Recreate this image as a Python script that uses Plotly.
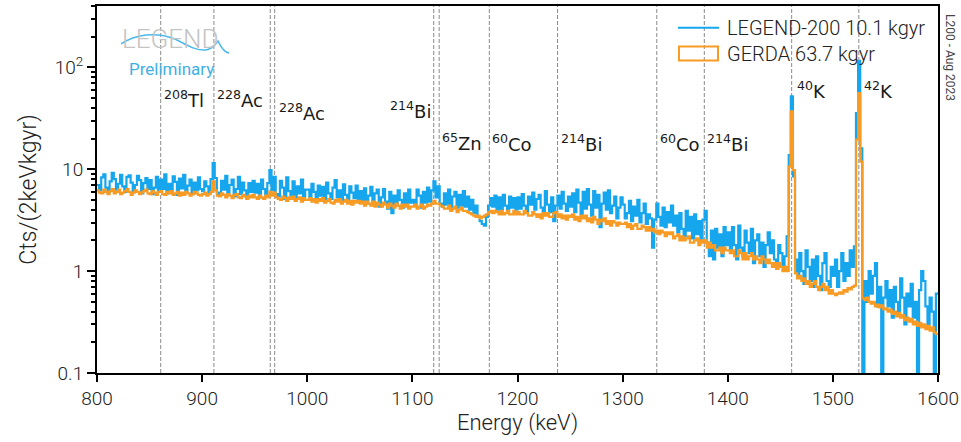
import numpy as np
import plotly.graph_objects as go

# ---------------- data ----------------
bin_width = 2.0  # keV
e_min, e_max = 800, 1600

legend200 = [
    7.0,6.2,8.3,8.9,6.6,5.9,7.6,9.2,8.0,6.3,7.2,8.8,6.8,6.0,8.4,8.7,7.4,6.1,7.0,8.6,7.8,5.8,7.3,8.2,6.4,
    7.8,5.7,6.6,8.4,6.0,7.9,6.4,8.9,5.8,7.2,6.1,8.5,7.5,5.6,8.1,6.5,8.8,5.9,6.9,7.9,5.7,7.4,6.2,8.3,6.4,
    6.1,7.6,6.8,5.8,8.0,11.5,8.2,5.9,5.5,7.7,6.3,8.6,5.8,7.0,7.9,5.4,6.4,8.4,5.7,7.4,6.2,5.3,7.3,6.0,7.7,
    5.9,7.2,5.3,7.9,6.4,5.6,7.3,9.8,6.2,8.4,5.7,5.4,7.7,6.6,5.1,8.3,6.1,5.5,7.6,5.3,6.8,5.8,7.9,5.4,6.3,
    6.3,5.2,7.2,6.0,5.0,6.9,5.5,6.7,4.8,7.4,5.8,5.1,6.6,7.8,5.3,6.2,4.9,7.1,5.6,4.7,6.8,5.9,5.2,6.9,5.0,
    6.1,4.8,6.5,4.6,5.5,6.7,4.5,5.8,6.3,4.3,5.3,6.4,4.8,4.1,6.0,3.7,5.5,4.4,6.2,5.0,4.2,5.8,4.6,6.3,4.7,
    5.0,4.4,6.3,5.5,4.2,6.0,4.7,6.6,4.8,6.2,7.6,5.3,6.8,4.6,4.3,5.8,4.5,6.3,4.0,5.4,6.0,4.2,5.6,4.4,6.1,
    4.3,5.4,4.0,5.0,3.7,4.4,3.4,3.1,2.9,2.8,3.4,4.4,5.2,4.3,5.5,4.0,5.3,4.0,5.6,4.4,3.9,5.4,4.2,5.2,4.0,
    5.3,4.1,5.7,4.4,3.9,5.4,4.5,5.9,4.0,5.1,5.6,4.2,3.7,6.1,4.5,3.8,5.3,3.1,4.4,5.5,4.1,6.0,4.6,3.9,5.4,
    4.3,5.8,3.8,6.3,4.7,3.6,6.0,4.1,6.4,4.5,3.5,6.1,4.2,5.6,2.7,4.6,5.9,4.0,6.2,3.7,4.4,5.4,3.3,4.2,5.3,
    4.5,3.3,3.7,4.9,3.1,4.3,3.5,5.0,3.0,3.7,4.6,2.9,3.6,3.3,1.7,3.2,4.6,3.4,2.8,4.2,2.7,3.8,3.0,4.4,2.8,
    3.5,2.4,3.7,2.6,2.2,3.9,2.5,3.4,2.1,3.6,2.3,3.1,2.0,3.2,3.9,1.9,1.4,2.5,1.3,2.6,1.7,2.3,1.4,2.7,1.8,
    2.4,1.6,2.7,1.8,1.3,2.8,1.7,1.4,2.5,1.9,1.5,2.6,1.2,2.0,2.3,1.4,1.9,1.1,1.8,2.4,1.5,2.0,1.3,1.05,1.8,
    1.5,1.1,1.4,2.2,13.8,52,8.5,1.3,0.9,1.5,1.0,0.75,1.6,1.1,0.8,1.3,0.7,1.4,0.9,0.65,1.2,1.5,0.8,0.7,1.1,
    0.9,1.3,0.7,1.0,1.5,0.8,1.2,0.9,1.6,1.1,1.75,35.5,116,16,0,0.8,0.5,1.0,0.6,0.9,1.2,0.45,0.7,0,0.55,
    0.8,0.45,0.65,0.35,0.7,0.5,0.4,0.85,0.55,0.3,0.6,0.45,0.75,0.35,0.5,0,0.65,1.0,0.8,0.45,0.3,0.55,0.4,0,0.6,
]

gerda = [
    6.2,5.9,5.8,6.3,6.0,5.7,6.1,6.4,5.8,6.0,6.3,5.7,5.9,6.1,6.4,6.0,5.6,5.9,6.2,6.0,5.7,5.9,6.1,6.3,5.8,
    5.7,6.1,5.9,5.6,6.0,6.1,5.7,5.6,6.0,5.8,6.1,5.6,5.8,6.0,5.5,5.9,5.6,6.0,5.8,5.5,5.7,6.0,5.8,5.6,5.5,
    5.7,5.9,5.5,5.7,6.0,7.6,6.2,5.5,5.4,5.8,5.6,5.3,5.7,5.5,5.2,5.6,5.7,5.3,5.2,5.6,5.4,5.1,5.5,5.3,5.6,
    5.3,5.1,5.5,5.3,5.1,5.5,5.3,6.0,5.5,5.9,5.3,5.1,5.0,5.4,5.2,4.9,5.3,5.1,5.4,4.9,5.1,5.3,4.8,5.2,5.0,
    5.0,5.2,4.8,5.1,4.7,5.1,4.9,5.2,4.7,4.9,5.1,4.7,4.6,5.0,4.8,5.1,4.6,4.8,5.0,4.6,4.9,4.5,4.9,4.7,4.9,
    4.6,4.8,4.4,4.8,4.6,4.4,4.8,4.3,4.7,4.5,4.3,4.7,4.5,4.2,4.6,4.4,4.2,4.6,4.4,4.1,4.5,4.3,4.5,4.1,4.3,
    4.3,4.5,4.1,4.3,4.5,4.1,4.3,4.5,4.4,4.6,4.9,4.6,4.6,4.4,4.3,4.1,4.1,4.4,3.9,4.1,4.3,3.8,4.0,4.2,3.9,
    3.9,3.8,3.7,3.6,3.5,3.4,3.5,3.3,3.4,3.5,3.6,3.8,3.9,3.7,3.9,3.8,3.6,3.9,3.6,3.7,3.9,3.6,3.6,3.9,3.6,
    3.8,3.6,3.6,3.9,3.7,3.5,3.5,3.8,3.6,3.4,3.6,3.3,3.7,3.5,3.7,3.4,3.4,3.7,3.8,3.4,3.6,3.3,3.5,3.2,3.5,
    3.4,3.6,3.2,3.4,3.1,3.5,3.3,3.5,3.1,3.3,3.0,3.4,3.2,2.9,3.2,3.1,3.3,2.9,3.1,2.8,3.1,3.0,2.8,3.0,2.9,
    2.9,3.0,2.7,2.9,2.6,2.8,2.9,2.6,2.6,2.8,2.7,2.5,2.7,2.5,2.6,2.4,2.5,2.3,2.5,2.4,2.2,2.4,2.3,2.4,2.1,
    2.2,2.3,2.0,2.2,2.0,2.1,2.2,1.9,1.9,2.0,2.1,1.8,2.0,1.9,2.0,1.7,1.9,1.7,1.8,1.6,1.6,1.7,1.5,1.7,1.6,
    1.6,1.5,1.6,1.4,1.4,1.6,1.5,1.3,1.5,1.3,1.4,1.5,1.3,1.4,1.3,1.2,1.4,1.3,1.2,1.3,1.2,1.1,1.2,1.05,1.2,
    1.1,1.0,1.1,1.0,10.6,37,9.8,0.95,0.85,0.9,0.8,0.85,0.75,0.8,0.7,0.75,0.8,0.7,0.65,0.7,0.75,0.65,0.7,0.6,0.65,
    0.6,0.58,0.6,0.62,0.6,0.65,0.63,0.68,0.66,0.7,0.72,19.5,56,11.9,0.54,0.52,0.55,0.5,0.48,0.5,0.45,0.47,0.44,0.46,0.42,
    0.43,0.4,0.42,0.38,0.4,0.36,0.39,0.35,0.37,0.33,0.35,0.32,0.34,0.3,0.32,0.29,0.31,0.28,0.3,0.27,0.29,0.26,0.28,0.25,0.24,
]

line_energies = [860.6, 911.2, 964.8, 969.0, 1120.3, 1125.5, 1173.2, 1238.1, 1332.5, 1377.7, 1460.8, 1524.7]

iso_labels = ["<sup>208</sup>Tl", "<sup>228</sup>Ac", "<sup>228</sup>Ac", "<sup>214</sup>Bi",
              "<sup>65</sup>Zn", "<sup>60</sup>Co", "<sup>214</sup>Bi", "<sup>60</sup>Co",
              "<sup>214</sup>Bi", "<sup>40</sup>K", "<sup>42</sup>K"]
iso_label_energy = [860.6, 911.2, 969.0, 1120.3, 1125.5, 1173.2, 1238.1, 1332.5, 1377.7, 1460.8, 1524.7]

x_ticks = [800, 900, 1000, 1100, 1200, 1300, 1400, 1500, 1600]
y_tickvals = [0.1, 1, 10, 100]
y_ticktext = ["0.1", "1", "10", "10<sup>2</sup>"]

series_names = ["LEGEND-200 10.1 kgyr", "GERDA 63.7 kgyr"]

# ---------------- layout helpers ----------------
W, H = 961, 442
L, R, T, B = 97, 938, 6, 373


def px(xp):
    return (xp - L) / (R - L)


def py(yp):
    return (B - yp) / (B - T)


BLUE = "#16a6ee"
ORANGE = "#f79b25"
FONT = "Roboto"

edges = np.arange(e_min, e_max + bin_width / 2, bin_width)


def step_xy(vals):
    v = np.asarray(vals, dtype=float)
    v = np.where(v > 0, v, 1e-3)
    return edges, np.append(v, v[-1])


fig = go.Figure()
for vals, col, name in [(legend200, BLUE, series_names[0]), (gerda, ORANGE, series_names[1])]:
    xs, ys = step_xy(vals)
    fig.add_trace(go.Scatter(x=xs, y=ys, mode="lines", line=dict(color=col, width=2.2, shape="hv"),
                             name=name, showlegend=False, hoverinfo="skip"))

shapes = []
for e in line_energies:
    shapes.append(dict(type="line", xref="x", yref="paper", x0=e, x1=e, y0=0, y1=1,
                       line=dict(color="#8a8a8a", width=1, dash="4px,2px"), layer="below"))

# legend (manual)
shapes.append(dict(type="line", xref="paper", yref="paper", x0=px(678), x1=px(719), y0=py(27.7), y1=py(27.7),
                   line=dict(color=BLUE, width=2)))
shapes.append(dict(type="rect", xref="paper", yref="paper", x0=px(679), x1=px(718), y0=py(60.5), y1=py(46.5),
                   line=dict(color=ORANGE, width=2)))

# logo wave
pts = [(121, 44), (135, 35), (155, 31), (175, 39), (187, 45), (196, 51), (206, 50),
       (212, 49), (216, 44), (218, 41), (220, 45), (223, 52), (229, 53)]
path = "M {:.4f},{:.4f}".format(px(pts[0][0]), py(pts[0][1]))
for i in range(1, len(pts), 3):
    seg = pts[i:i + 3]
    path += " C " + " ".join("{:.4f},{:.4f}".format(px(a), py(b)) for a, b in seg)
shapes.append(dict(type="path", xref="paper", yref="paper", path=path,
                   line=dict(color="#4db8ea", width=1.5)))

ann = []
# isotope label placement (pixel y centres, anchors)
label_y = [99, 99, 112, 110, 142, 143, 143, 143, 143, 90, 90]
label_anchor = ["left", "left", "left", "right", "left", "left", "left", "left", "left", "left", "left"]
label_shift = [1, 1, 2, -1, 1, 1, 1, 1, 1, 3, 3]
for txt, e, yy, anc, sh in zip(iso_labels, iso_label_energy, label_y, label_anchor, label_shift):
    ann.append(dict(text=txt, x=e, xref="x", y=py(yy), yref="paper", xanchor=anc, yanchor="middle",
                    xshift=sh, showarrow=False,
                    font=dict(family="DejaVu Sans", size=18, color="#1a1a1a", weight=400)))

for i, yy in enumerate([28, 54]):
    ann.append(dict(text=series_names[i], x=px(725), y=py(yy), xref="paper", yref="paper", xanchor="left",
                    yanchor="middle", showarrow=False,
                    font=dict(family=FONT, size=20, color="#222", weight=300)))

ann.append(dict(text="L200 - Aug 2023", x=px(950), y=py(57), xref="paper", yref="paper", xanchor="center",
                yanchor="middle", textangle=90, showarrow=False,
                font=dict(family=FONT, size=12, color="#444", weight=400)))

ann.append(dict(text="LEGEND", x=px(170), y=py(39), xref="paper", yref="paper", xanchor="center",
                yanchor="middle", showarrow=False, font=dict(family=FONT, size=26, color="#c4c4c4", weight=300)))
ann.append(dict(text="Preliminary", x=px(171), y=py(69), xref="paper", yref="paper", xanchor="center",
                yanchor="middle", showarrow=False, font=dict(family=FONT, size=17, color="#3fb0e3", weight=400)))

minor_vals = [m * d for d in (0.1, 1, 10, 100) for m in range(2, 10) if m * d <= 400]

fig.update_layout(
    width=W, height=H,
    margin=dict(l=L, r=W - R, t=T, b=H - B, autoexpand=False),
    paper_bgcolor="white", plot_bgcolor="white",
    font=dict(family=FONT, color="#222", weight=300),
    shapes=shapes, annotations=ann, showlegend=False,
    xaxis=dict(range=[e_min, e_max], tickvals=x_ticks, ticks="outside", ticklen=7, tickwidth=2,
               tickcolor="black", showline=True, linewidth=2, linecolor="black", mirror=True,
               showgrid=False, zeroline=False, tickfont=dict(size=19, family=FONT, weight=300),
               title=dict(text="Energy (keV)", font=dict(size=22, family=FONT, weight=300), standoff=4)),
    yaxis=dict(type="log", range=[-1, np.log10(400)], tickvals=y_tickvals, ticktext=y_ticktext,
               ticks="outside", ticklen=8, tickwidth=2, tickcolor="black",
               showline=True, linewidth=2, linecolor="black", mirror=True, showgrid=False, zeroline=False,
               tickfont=dict(size=19, family=FONT, weight=300),
               minor=dict(tickvals=minor_vals, ticks="outside", ticklen=4, tickwidth=1.5, tickcolor="black",
                          showgrid=False),
               title=dict(text="Cts/(2keVkgyr)", font=dict(size=23, family=FONT, weight=300), standoff=12)),
)

fig.write_html("out.html", config={"displayModeBar": False},
               post_script="document.body.style.margin='0px';")
